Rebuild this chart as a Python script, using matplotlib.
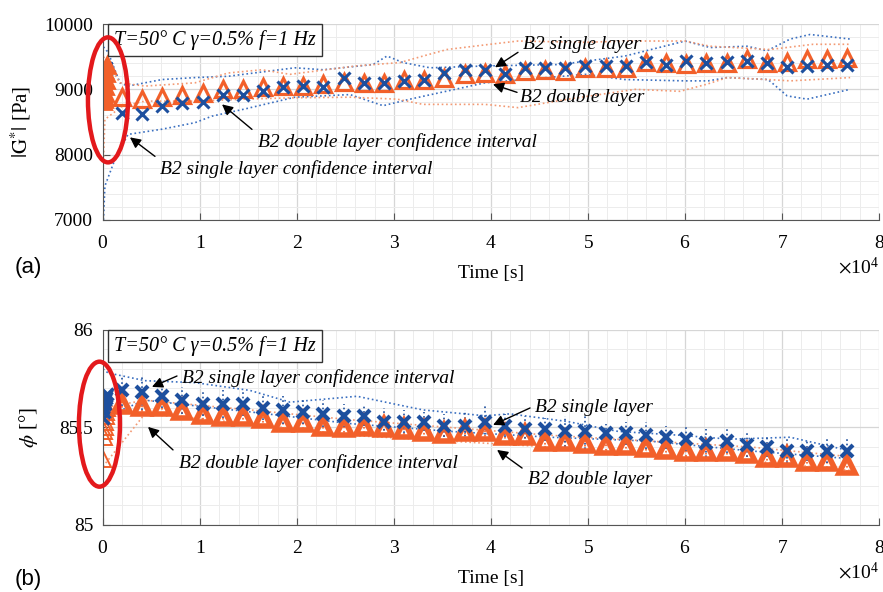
import matplotlib.pyplot as plt
from matplotlib.patches import Ellipse
from matplotlib.ticker import MultipleLocator

plt.rcParams['font.family'] = ['Liberation Serif', 'DejaVu Serif']
plt.rcParams['mathtext.fontset'] = 'stix'

# measurement times [s]
t_early = [0, 60, 120, 180, 240, 300, 360, 420]
t = [1960, 4040, 6110, 8190, 10270, 12350, 14420, 16500, 18580, 20650,
     22730, 24810, 26880, 28960, 31040, 33120, 35190, 37270, 39350, 41420,
     43500, 45580, 47650, 49730, 51810, 53890, 55960, 58040, 60120, 62190,
     64270, 66350, 68420, 70500, 72580, 74660, 76730]

# (a) complex modulus |G*| [Pa]
g_single_early = [8900, 9000, 9100, 9200, 9300, 9330, 9300, 9250]
g_double_early = [8820, 8850, 8900, 8950, 9050, 9150, 9250, 9380]
g_single = [8640, 8620, 8740, 8790, 8800, 8920, 8920, 8970, 9030, 9050,
            9030, 9170, 9100, 9100, 9130, 9150, 9250, 9300, 9300, 9230,
            9320, 9320, 9320, 9360, 9360, 9360, 9420, 9380, 9430, 9410,
            9420, 9430, 9410, 9340, 9360, 9380, 9380]
g_double = [8880, 8850, 8880, 8910, 8950, 9000, 9000, 9030, 9050, 9050,
            9080, 9120, 9100, 9100, 9150, 9140, 9180, 9230, 9250, 9240,
            9280, 9300, 9280, 9330, 9330, 9330, 9420, 9400, 9390, 9410,
            9410, 9460, 9410, 9420, 9460, 9460, 9480]

# (a) confidence intervals
ci_su_t = [50, 520, 1750, 2580, 6080, 9490, 12890, 19790, 22680, 27840, 29280,
           30930, 33710, 39900, 47110, 53810, 60000, 62580, 66390, 68450,
           70830, 72890, 77010]
ci_su = [9650, 9570, 9100, 9050, 9150, 9180, 9200, 9330, 9300, 9380, 9510,
         9410, 9330, 9360, 9380, 9510, 9740, 9640, 9660, 9590, 9770, 9840, 9770]
ci_sl_t = [50, 200, 1240, 2580, 6080, 9490, 11240, 14640, 19790, 25460, 28870,
           31650, 39380, 49690, 53810, 60000, 62370, 64330, 68560, 70520,
           72580, 77010]
ci_sl = [7000, 7520, 7930, 8310, 8390, 8490, 8590, 8700, 8880, 8920, 8750,
         8850, 9100, 9230, 9150, 9130, 9130, 9180, 9150, 8900, 8850, 9000]
ci_du_t = [50, 1750, 4330, 9490, 12890, 16390, 19280, 26190, 30620, 32990,
           35460, 39900, 42780, 49690, 53810, 60000, 62580, 68760, 73200, 77010]
ci_du = [9500, 9100, 9050, 9100, 9250, 9300, 9230, 9360, 9410, 9510, 9610,
         9690, 9740, 9720, 9740, 9740, 9660, 9610, 9690, 9690]
ci_dl_t = [50, 200, 1960, 4330, 9490, 14640, 19280, 25460, 30310, 32990,
           39380, 42780, 47940, 54850, 59480, 62270, 64330, 68560, 70830, 77010]
ci_dl = [7900, 8540, 8740, 8820, 8820, 8850, 8870, 8880, 8850, 8770, 8770,
         8720, 8850, 9000, 8970, 9080, 9180, 9150, 9130, 9180]

# (b) phase angle [deg]
p_single_early = [85.55, 85.58, 85.60, 85.62, 85.64, 85.65, 85.66, 85.67]
p_double_early = [85.34, 85.45, 85.48, 85.50, 85.53, 85.56, 85.58, 85.60]
p_single = [85.69, 85.68, 85.66, 85.64, 85.62, 85.62, 85.62, 85.60, 85.59, 85.58,
            85.57, 85.56, 85.56, 85.53, 85.53, 85.53, 85.51, 85.51, 85.53, 85.51,
            85.49, 85.49, 85.48, 85.48, 85.47, 85.47, 85.46, 85.45, 85.44, 85.42,
            85.43, 85.41, 85.40, 85.38, 85.38, 85.38, 85.38]
p_double = [85.62, 85.61, 85.61, 85.59, 85.57, 85.56, 85.56, 85.55, 85.53, 85.53,
            85.51, 85.50, 85.51, 85.50, 85.49, 85.48, 85.47, 85.48, 85.48, 85.46,
            85.46, 85.43, 85.43, 85.42, 85.41, 85.41, 85.40, 85.39, 85.38, 85.38,
            85.38, 85.37, 85.35, 85.35, 85.33, 85.33, 85.31]
p_single_err = [0.08, 0.09, 0.06, 0.07, 0.06, 0.07, 0.06, 0.06, 0.07, 0.06,
                0.07, 0.06, 0.05, 0.07, 0.06, 0.05, 0.06, 0.08, 0.09, 0.06,
                0.07, 0.06, 0.08, 0.09, 0.05, 0.06, 0.07, 0.06, 0.06, 0.07,
                0.06, 0.06, 0.05, 0.06, 0.05, 0.06, 0.06]
p_double_err = [0.04, 0.05, 0.04, 0.04, 0.05, 0.04, 0.04, 0.05, 0.04, 0.04,
                0.04, 0.05, 0.04, 0.04, 0.05, 0.04, 0.04, 0.04, 0.05, 0.04,
                0.04, 0.04, 0.05, 0.04, 0.05, 0.04, 0.04, 0.04, 0.05, 0.04,
                0.04, 0.04, 0.04, 0.05, 0.04, 0.04, 0.04]

# (b) confidence intervals
ci_b_t = [0, 4330, 15155, 25460, 35770, 46080, 56390, 66700, 77010]
ci_b_su_t = [0, 520, 4330, 9490, 15155, 19280, 26190, 32990, 39380, 41960,
             47940, 53090, 59490, 64640, 70830, 77010]
ci_b_su = [85.80, 85.78, 85.74, 85.73, 85.69, 85.63, 85.66, 85.59, 85.56, 85.57,
           85.53, 85.48, 85.46, 85.44, 85.45, 85.38]
ci_b_sl = [85.55, 85.64, 85.58, 85.52, 85.48, 85.45, 85.43, 85.38, 85.34]
ci_b_du = [85.60, 85.64, 85.59, 85.54, 85.50, 85.46, 85.43, 85.40, 85.35]
ci_b_dl = [85.30, 85.57, 85.52, 85.46, 85.43, 85.40, 85.36, 85.33, 85.28]

blue = '#1d4f9e'
orange = '#f2602a'
ci_blue = '#3a6fc0'
ci_orange = '#f39a74'
red = '#e3191c'
cond = 'T=50° C γ=0.5% f=1 Hz'


def style_axes(ax, ylo, yhi, ymaj, ymin):
    ax.set_xlim(0, 80000)
    ax.set_ylim(ylo, yhi)
    ax.xaxis.set_major_locator(MultipleLocator(10000))
    ax.xaxis.set_minor_locator(MultipleLocator(2000))
    ax.yaxis.set_major_locator(MultipleLocator(ymaj))
    ax.yaxis.set_minor_locator(MultipleLocator(ymin))
    ax.ticklabel_format(axis='x', style='sci', scilimits=(4, 4), useMathText=True)
    ax.xaxis.get_offset_text().set_fontsize(14)
    ax.grid(which='major', color='#d6d6d6', lw=0.9)
    ax.grid(which='minor', color='#ececec', lw=0.7)
    ax.set_axisbelow(True)
    for s in ['top', 'right']:
        ax.spines[s].set_visible(False)
    for s in ['left', 'bottom']:
        ax.spines[s].set_color('#555555')
    ax.tick_params(which='major', direction='in', length=5, color='#555555',
                   labelsize=14, pad=7)
    ax.tick_params(axis='x', which='major', pad=11)
    ax.tick_params(which='minor', length=0)
    ax.set_xlabel('Time [s]', fontsize=14, labelpad=9)
    ax.text(0.014, 0.97, cond, transform=ax.transAxes, fontsize=14.5,
            style='italic', va='top', ha='left',
            bbox=dict(boxstyle='square,pad=0.3', fc='white', ec='#333333', lw=1))


def note(ax, txt, tip, tail, pos):
    ax.annotate('', xy=tip, xytext=tail,
                arrowprops=dict(arrowstyle='-|>', color='k', lw=1,
                                mutation_scale=16, shrinkA=0, shrinkB=0))
    ax.text(pos[0], pos[1], txt, fontsize=14, style='italic', va='center', ha='left')


fig = plt.figure(figsize=(8.83, 5.92), dpi=100)
ax1 = fig.add_axes([0.1166, 0.6284, 0.879, 0.331])
ax2 = fig.add_axes([0.1166, 0.1132, 0.879, 0.3294])

# panel (a)
style_axes(ax1, 7000, 10000, 1000, 200)
ax1.plot(ci_su_t, ci_su, ':', color=ci_blue, lw=1.2)
ax1.plot(ci_sl_t, ci_sl, ':', color=ci_blue, lw=1.2)
ax1.plot(ci_du_t, ci_du, ':', color=ci_orange, lw=1.2)
ax1.plot(ci_dl_t, ci_dl, ':', color=ci_orange, lw=1.2)
ax1.plot(t_early, g_single_early, 'x', color=blue, ms=8, mew=2.2)
ax1.plot(t_early, g_double_early, '^', color=orange, mfc=orange, ms=11, mew=2)
ax1.plot(t, g_double, '^', ls='none', mfc='none', mec=orange, ms=12, mew=2.3)
ax1.plot(t, g_single, 'x', ls='none', color=blue, ms=8, mew=2.2)
ax1.set_ylabel(r'$|\mathrm{G}^{*}|$ [Pa]', fontsize=15, labelpad=8)
ax1.add_patch(Ellipse((515, 8839), 4124, 1914, fill=False, ec=red, lw=3.2,
                      clip_on=False, zorder=5))
note(ax1, 'B2 single layer', (40410, 9337), (42780, 9567), (43300, 9689))
note(ax1, 'B2 double layer', (40200, 9077), (42680, 8954), (42990, 8877))
note(ax1, 'B2 double layer confidence interval', (12270, 8770), (15360, 8387),
     (15980, 8188))
note(ax1, 'B2 single layer confidence interval', (2780, 8265), (5360, 7974),
     (5880, 7775))

# panel (b)
style_axes(ax2, 85, 86, 0.5, 0.1)
ax2.plot(ci_b_su_t, ci_b_su, ':', color=ci_blue, lw=1.2)
ax2.plot(ci_b_t, ci_b_sl, ':', color=ci_blue, lw=1.2)
ax2.plot(ci_b_t, ci_b_du, ':', color=ci_orange, lw=1.2)
ax2.plot(ci_b_t, ci_b_dl, ':', color=ci_orange, lw=1.2)
eb = ax2.errorbar(t, p_double, yerr=p_double_err, fmt='none', ecolor=orange,
                  elinewidth=1.2)
eb[2][0].set_linestyle(':')
eb = ax2.errorbar(t, p_single, yerr=p_single_err, fmt='none', ecolor=blue,
                  elinewidth=1.2)
eb[2][0].set_linestyle(':')
ax2.plot(t_early, p_double_early, '^', ls='none', mfc='none', mec=orange, ms=12, mew=1.4)
ax2.plot(t_early, p_single_early, 'x', ls='none', color=blue, ms=8, mew=2.5)
ax2.plot(t, p_double, '^', ls='none', mfc='none', mec=orange, ms=12, mew=4)
ax2.plot(t, p_single, 'x', ls='none', color=blue, ms=8, mew=3)
ax2.set_ylabel(r'$\phi$ [°]', fontsize=15, labelpad=14)
ax2.yaxis.set_major_formatter(plt.FuncFormatter(lambda v, p: f'{v:g}'))
ax2.add_patch(Ellipse((-361, 85.517), 4227, 0.641, fill=False, ec=red, lw=3.2,
                      clip_on=False, zorder=5))
note(ax2, 'B2 single layer confidence interval', (5050, 85.708), (7630, 85.764),
     (8140, 85.754))
note(ax2, 'B2 double layer confidence interval', (4640, 85.503), (7220, 85.385),
     (7840, 85.318))
note(ax2, 'B2 single layer', (40210, 85.513), (44020, 85.60), (44540, 85.60))
note(ax2, 'B2 double layer', (40620, 85.385), (43200, 85.292), (43810, 85.231))

fig.text(15 / 883, 1 - 268 / 592, '(a)', family='Liberation Sans', fontsize=16,
         va='center')
fig.text(15 / 883, 1 - 579 / 592, '(b)', family='Liberation Sans', fontsize=16,
         va='center')

fig.savefig('out.png', dpi=100)
